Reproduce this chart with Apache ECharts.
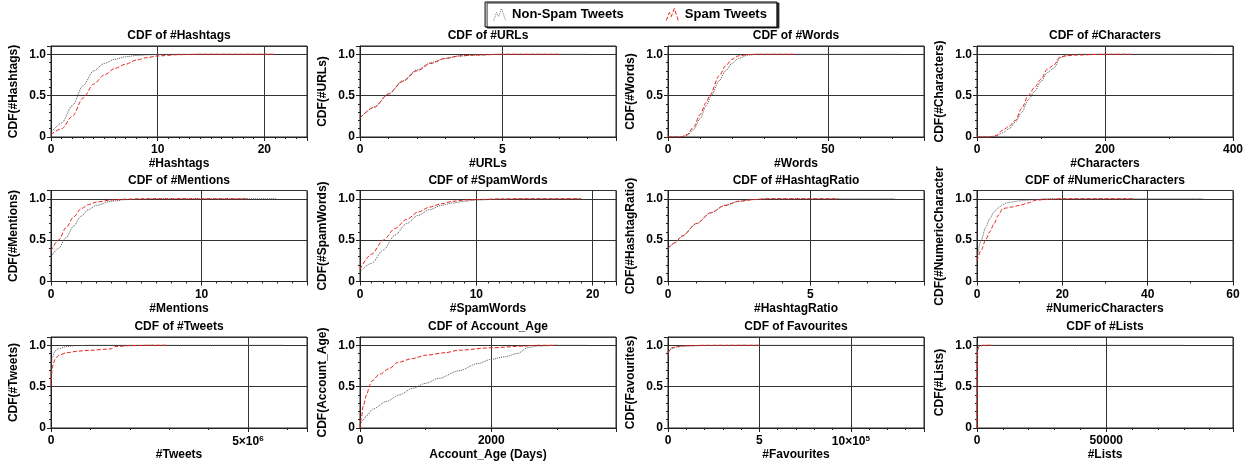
<!DOCTYPE html>
<html><head><meta charset="utf-8">
<script src="https://cdn.jsdelivr.net/npm/echarts@6/dist/echarts.min.js"></script>
<style>html,body{margin:0;padding:0;background:#fff}#c{width:1258px;height:467px}</style>
</head><body><div id="c"></div>
<script>
// ---------- data (x value, CDF) ----------
const hashtagsNonSpam = [[0,0.05],[1,0.17],[2,0.38],[3,0.62],[4,0.8],[5,0.89],[6,0.94],[7,0.97],[8,0.985],[9,0.993],[10,0.997],[12,1.0],[21,1.0]];
const hashtagsSpam = [[0,0.03],[1,0.1],[2,0.25],[3,0.47],[4,0.64],[5,0.75],[6,0.83],[7,0.88],[8,0.93],[9,0.96],[10,0.98],[12,0.995],[14,1.0],[21,1.0]];
const urlsNonSpam = [[0,0.23],[0.5,0.36],[1,0.52],[1.5,0.68],[2,0.81],[2.5,0.9],[3,0.95],[3.5,0.98],[4,0.99],[5,1.0],[8,1.0]];
const urlsSpam = [[0,0.23],[0.5,0.36],[1,0.52],[1.5,0.67],[2,0.8],[2.5,0.89],[3,0.95],[3.5,0.98],[4,0.99],[5,1.0],[7,1.0]];
const wordsNonSpam = [[0,0],[4,0],[6,0.02],[8,0.09],[10,0.22],[12,0.38],[13.5,0.5],[16,0.68],[18,0.8],[20,0.89],[22,0.95],[25,0.99],[28,1.0],[72,1.0]];
const wordsSpam = [[0,0],[4,0],[6,0.03],[8,0.12],[10,0.27],[12,0.42],[13,0.5],[16,0.74],[18,0.86],[20,0.94],[22,0.98],[25,0.997],[28,1.0],[40,1.0]];
const charsNonSpam = [[0,0],[20,0],[30,0.01],[40,0.05],[50,0.1],[60,0.18],[70,0.3],[80,0.45],[90,0.55],[100,0.67],[110,0.78],[120,0.83],[130,0.96],[140,0.99],[160,1.0],[366,1.0]];
const charsSpam = [[0,0],[20,0],[30,0.02],[40,0.08],[50,0.13],[60,0.2],[70,0.35],[80,0.5],[90,0.6],[100,0.7],[110,0.82],[120,0.87],[130,0.97],[140,0.98],[150,0.99],[200,1.0],[240,1.0]];
const mentionsNonSpam = [[0,0.3],[0.5,0.4],[1,0.53],[1.5,0.67],[2,0.79],[2.5,0.87],[3,0.92],[4,0.97],[5,0.99],[6,0.995],[7,1.0],[15,1.0]];
const mentionsSpam = [[0,0.37],[0.5,0.5],[1,0.65],[1.5,0.78],[2,0.88],[2.5,0.93],[3,0.96],[4,0.985],[5,0.995],[6,1.0],[13,1.0]];
const spamWordsNonSpam = [[0,0.12],[1,0.22],[2,0.38],[3,0.56],[4,0.7],[5,0.8],[6,0.87],[7,0.92],[8,0.95],[9,0.97],[10,0.985],[12,0.995],[14,1.0],[19,1.0]];
const spamWordsSpam = [[0,0.15],[1,0.33],[2,0.5],[3,0.64],[4,0.75],[5,0.84],[6,0.9],[7,0.94],[8,0.97],[9,0.985],[10,0.99],[12,0.998],[14,1.0],[19,1.0]];
const ratioNonSpam = [[0,0.4],[0.25,0.47],[0.5,0.55],[1,0.7],[1.5,0.83],[2,0.92],[2.5,0.97],[3,0.99],[3.5,1.0],[8,1.0]];
const ratioSpam = [[0,0.4],[0.25,0.47],[0.5,0.55],[1,0.7],[1.5,0.83],[2,0.92],[2.5,0.97],[3,0.99],[3.5,1.0],[6,1.0]];
const numericNonSpam = [[0,0.28],[1,0.5],[2,0.65],[3,0.76],[4,0.84],[5,0.89],[6,0.93],[7,0.95],[8,0.96],[10,0.975],[12,0.985],[14,0.99],[16,1.0],[53,1.0]];
const numericSpam = [[0,0.25],[1,0.38],[2,0.5],[3,0.6],[4,0.7],[5,0.8],[6,0.88],[7,0.89],[8,0.9],[10,0.92],[12,0.95],[14,0.985],[16,0.99],[18,0.995],[20,1.0],[37,1.0]];
const tweetsNonSpam = [[0,0.6],[10000,0.75],[30000,0.85],[100000,0.93],[200000,0.96],[400000,0.985],[600000,0.995],[1000000,1.0],[5900000,1.0]];
const tweetsSpam = [[0,0.5],[10000,0.62],[30000,0.72],[60000,0.78],[100000,0.83],[200000,0.88],[400000,0.91],[700000,0.93],[1000000,0.94],[1500000,0.955],[1650000,0.985],[2000000,0.995],[2500000,1.0],[2950000,1.0]];
const ageNonSpam = [[0,0.04],[50,0.1],[100,0.15],[200,0.23],[400,0.32],[600,0.4],[800,0.48],[1000,0.54],[1200,0.6],[1500,0.69],[1800,0.78],[2000,0.83],[2200,0.86],[2400,0.9],[2550,0.97],[2700,0.99],[3000,1.0],[3460,1.0]];
const ageSpam = [[0,0],[20,0.12],[50,0.27],[100,0.4],[150,0.52],[180,0.57],[300,0.65],[450,0.72],[570,0.79],[800,0.84],[1000,0.88],[1300,0.91],[1500,0.94],[2000,0.97],[2500,0.99],[2700,1.0],[3000,1.0]];
const favNonSpam = [[0,0.88],[5000,0.92],[10000,0.94],[20000,0.96],[50000,0.98],[100000,0.99],[200000,0.997],[400000,1.0],[1160000,1.0]];
const favSpam = [[0,0.9],[5000,0.93],[10000,0.95],[20000,0.97],[50000,0.985],[100000,0.995],[200000,1.0],[500000,1.0]];
const listsNonSpam = [[0,0],[30,0.6],[100,0.85],[300,0.96],[1000,0.99],[3000,1.0],[80000,1.0]];
const listsSpam = [[0,0],[30,0.5],[100,0.8],[300,0.95],[600,0.98],[1000,0.99],[2000,1.0],[6000,1.0]];

// ---------- panel descriptions ----------
const titles = ['CDF of #Hashtags','CDF of #URLs','CDF of #Words','CDF of #Characters',
  'CDF of #Mentions','CDF of #SpamWords','CDF of #HashtagRatio','CDF of #NumericCharacters',
  'CDF of #Tweets','CDF of Account_Age','CDF of Favourites','CDF of #Lists'];
const xNames = ['#Hashtags','#URLs','#Words','#Characters','#Mentions','#SpamWords','#HashtagRatio',
  '#NumericCharacters','#Tweets','Account_Age (Days)','#Favourites','#Lists'];
const yNames = ['CDF(#Hashtags)','CDF(#URLs)','CDF(#Words)','CDF(#Characters)','CDF(#Mentions)',
  'CDF(#SpamWords)','CDF(#HashtagRatio)','CDF(#NumericCharacters)','CDF(#Tweets)','CDF(Account_Age)',
  'CDF(Favourites)','CDF(#Lists)'];
const xMax = [24, 9, 80, 400, 17, 22, 9, 60, 6500000, 3900, 1400000, 99000];
const xMajor = [10, 5, 50, 200, 10, 10, 5, 20, 5000000, 2000, 500000, 50000];
const xMinor = [1, 1, 10, 100, 1, 1, 1, 10, 1000000, 1000, 100000, 10000];
const nonSpamData = [hashtagsNonSpam, urlsNonSpam, wordsNonSpam, charsNonSpam, mentionsNonSpam, spamWordsNonSpam,
  ratioNonSpam, numericNonSpam, tweetsNonSpam, ageNonSpam, favNonSpam, listsNonSpam];
const spamData = [hashtagsSpam, urlsSpam, wordsSpam, charsSpam, mentionsSpam, spamWordsSpam,
  ratioSpam, numericSpam, tweetsSpam, ageSpam, favSpam, listsSpam];
const specialXLabels = { 8: {5000000: '5×10{sup|6}'}, 10: {500000: '5', 1000000: '10×10{sup|5}'} };
const yTickLabels = {0: '0', 0.5: '0.5', 1: '1.0'};

// ---------- layout ----------
const colLeft = [51, 360, 668, 977];
const rowTop = [46, 190.5, 337];
const gw = 256, gh = 91;
const FONT = 'Liberation Sans, Arial, Helvetica, sans-serif';
const txt = {fontFamily: FONT, fontWeight: 'bold', fontSize: 12, color: '#000'};

const option = {animation: false, backgroundColor: '#fff',
  title: [], grid: [], xAxis: [], yAxis: [], series: []};

option.legend = {
  top: 2, left: 'center', padding: [4, 10, 4, 6], itemGap: 40, itemWidth: 15, itemHeight: 12,
  borderColor: '#000', borderWidth: 1, backgroundColor: '#fff',
  shadowColor: 'rgba(0,0,0,0.8)', shadowOffsetX: 2, shadowOffsetY: 1, shadowBlur: 0,
  textStyle: {fontFamily: FONT, fontWeight: 'bold', fontSize: 13, color: '#000', padding: [0, 0, 0, 0]},
  data: [
    {name: 'Non-Spam Tweets', icon: 'path://M0,12 L3,4 L5,8 L8,0 L11,9 L12,12',
     itemStyle: {color: 'none', borderColor: '#777', borderWidth: 1, borderType: 'dotted'}},
    {name: 'Spam Tweets', icon: 'path://M0,12 L3,4 L5,8 L8,0 L11,9 L12,12',
     itemStyle: {color: 'none', borderColor: '#e8201a', borderWidth: 1, borderType: 'dashed'}}
  ]
};

function isMult(v, step) { const r = v / step; return Math.abs(r - Math.round(r)) < 1e-6; }

for (let i = 0; i < 12; i++) {
  const r = Math.floor(i / 4), c = i % 4;
  const left = colLeft[c], top = rowTop[r];
  option.title.push({text: titles[i], left: left + gw / 2, top: top - 16, textAlign: 'center',
    padding: 0, textStyle: Object.assign({}, txt)});
  option.grid.push({left: left, top: top, width: gw, height: gh, show: true,
    borderColor: '#222', borderWidth: 1, backgroundColor: 'transparent'});
  const special = specialXLabels[i] || {};
  // major x axis
  option.xAxis.push({type: 'value', gridIndex: i, position: 'bottom', min: 0, max: xMax[i], interval: xMajor[i],
    name: xNames[i], nameLocation: 'middle', nameGap: 21, nameTextStyle: Object.assign({}, txt),
    axisLine: {show: true, onZero: false, lineStyle: {color: '#222', width: 1}},
    axisTick: {show: true, length: 4, lineStyle: {color: '#222'}},
    splitLine: {show: true, lineStyle: {color: '#333', width: 1}},
    axisLabel: Object.assign({}, txt, {margin: 7, showMaxLabel: true,
      formatter: function (v) {
        if (!isMult(v, xMajor[i])) return '';
        if (special[v] !== undefined) return special[v];
        return String(v);
      },
      rich: {sup: {fontFamily: FONT, fontWeight: 'bold', fontSize: 8, color: '#000', verticalAlign: 'top', padding: [0, 0, 5, 0]}}
    })});
  // minor tick x axis
  option.xAxis.push({type: 'value', gridIndex: i, position: 'bottom', min: 0, max: xMax[i], interval: xMinor[i],
    axisLine: {show: false}, axisLabel: {show: false}, splitLine: {show: false},
    axisTick: {show: true, length: 2, lineStyle: {color: '#222'}}});
  // major y axis
  option.yAxis.push({type: 'value', gridIndex: i, position: 'left', min: 0, max: 1.1, interval: 0.5,
    name: yNames[i], nameLocation: 'middle', nameGap: 31, nameRotate: 90,
    nameTextStyle: Object.assign({}, txt), nameTruncate: {maxWidth: 142, ellipsis: ''},
    axisLine: {show: true, lineStyle: {color: '#222', width: 1}},
    axisTick: {show: true, length: 4, lineStyle: {color: '#222'}},
    splitLine: {show: true, lineStyle: {color: '#333', width: 1}},
    axisLabel: Object.assign({}, txt, {margin: 5,
      formatter: function (v) {
        for (const k in yTickLabels) { if (Math.abs(v - Number(k)) < 1e-9) return yTickLabels[k]; }
        return '';
      }})});
  // minor tick y axis
  option.yAxis.push({type: 'value', gridIndex: i, position: 'left', min: 0, max: 1.1, interval: 0.1,
    axisLine: {show: false}, axisLabel: {show: false}, splitLine: {show: false},
    axisTick: {show: true, length: 2, lineStyle: {color: '#222'}}});

  option.series.push({type: 'line', name: 'Non-Spam Tweets', xAxisIndex: 2 * i, yAxisIndex: 2 * i,
    data: nonSpamData[i], showSymbol: false, symbol: 'none', smooth: 0.3, smoothMonotone: 'x',
    color: '#555', lineStyle: {color: '#555', width: 1, type: 'dotted'}, z: 3});
  option.series.push({type: 'line', name: 'Spam Tweets', xAxisIndex: 2 * i, yAxisIndex: 2 * i,
    data: spamData[i], showSymbol: false, symbol: 'none', smooth: 0.3, smoothMonotone: 'x',
    color: '#e8201a', lineStyle: {color: '#e8201a', width: 1, type: [4, 2]}, z: 4});
}

const chart = echarts.init(document.getElementById('c'), null, {renderer: 'canvas'});
chart.setOption(option);
</script>
</body></html>
